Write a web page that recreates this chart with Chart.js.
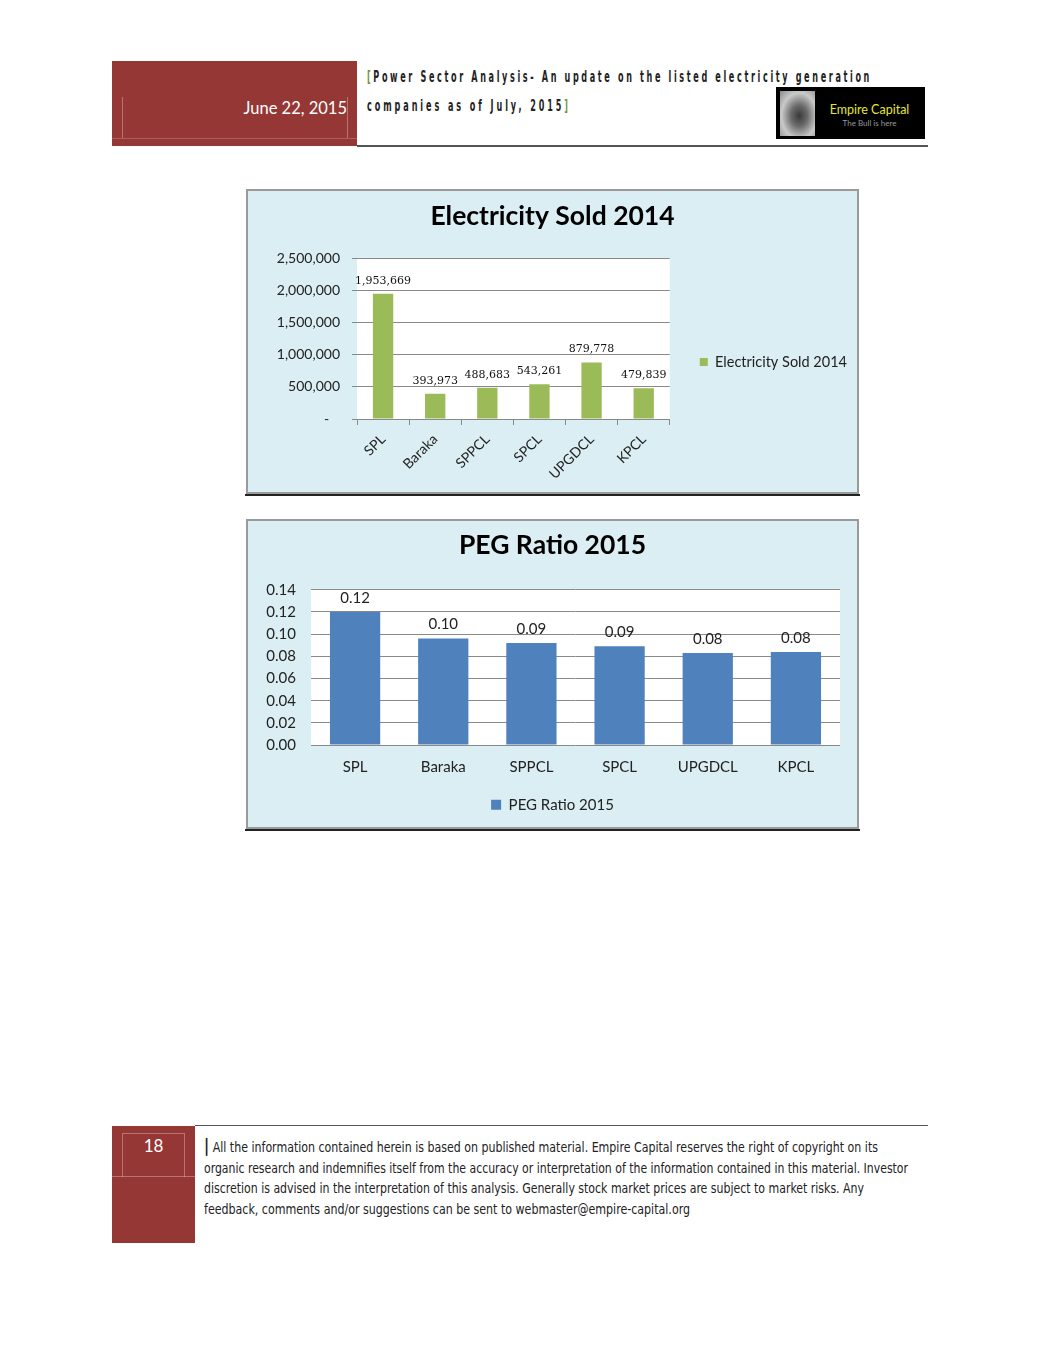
<!DOCTYPE html>
<html>
<head>
<meta charset="utf-8">
<script src="https://cdn.jsdelivr.net/npm/chart.js@4.4.1/dist/chart.umd.min.js"></script>
<style>
  body { margin: 0; background: #fff; }
  #page { position: relative; width: 1041px; height: 1347px; overflow: hidden; font-family: Lato, sans-serif; }
  .abs { position: absolute; }
  .red { background: #953735; }
  .narrow { font-family: "Liberation Sans Narrow", "Arial Narrow", "DejaVu Sans Condensed", sans-serif; white-space: nowrap; transform-origin: 0 50%; }
  .agency { font-family: "DejaVu Sans Condensed", "Liberation Sans Narrow", sans-serif; font-weight: bold; white-space: nowrap; transform-origin: 0 50%; }
  .box { position: absolute; box-sizing: border-box; border: 2px solid #9a9a9a; background: #dbeef4; }
  .box canvas { position: absolute; left: 0; top: 0; }
  .shadow { position: absolute; height: 2px; background: #222; }
</style>
</head>
<body>
<div id="page">

  <!-- header -->
  <div class="abs red" style="left:112px;top:61px;width:245px;height:85px;">
    <div class="abs" style="left:10px;top:36px;width:224px;height:41px;border-left:1px solid rgba(255,255,255,0.3);border-right:1px solid rgba(255,255,255,0.3);"></div>
    <div class="abs" style="left:0;top:77px;width:245px;height:1px;background:rgba(255,255,255,0.2);"></div>
    <div class="abs" style="right:10px;top:37px;line-height:20px;font-size:16.5px;color:#fff;">June 22, 2015</div>
  </div>
  <div class="abs" style="left:357px;top:145px;width:571px;height:2px;background:#555;"></div>
  <div class="abs agency" data-w="505" style="left:367px;top:67px;line-height:20px;font-size:15.5px;color:#222;"><span style="color:#77933c">[</span>Power Sector Analysis- An update on the listed electricity generation</div>
  <div class="abs agency" data-w="204" style="left:367px;top:96px;line-height:20px;font-size:15.5px;color:#222;">companies as of July, 2015<span style="color:#77933c">]</span></div>

  <div class="abs" style="left:776px;top:87px;width:149px;height:52px;background:#000;">
    <div class="abs" style="left:4px;top:4px;width:35px;height:45px;background:radial-gradient(ellipse at 55% 55%, #3a3a3a 0%, #6a6a6a 30%, #c9c9c9 65%, #8a8a8a 100%);"></div>
    <div class="abs" style="left:42px;width:103px;top:15px;text-align:center;font-size:12.5px;color:#e5e536;line-height:16px;">Empire Capital</div>
    <div class="abs" style="left:42px;width:103px;top:31px;text-align:center;font-size:8px;color:#9a9a9a;line-height:10px;">The Bull is here</div>
  </div>

  <!-- chart 1 -->
  <div class="box" style="left:246px;top:189px;width:613px;height:305px;">
    <canvas id="soldChart" width="609" height="301"></canvas>
  </div>
  <div class="shadow" style="left:245px;top:494px;width:615px;"></div>

  <!-- chart 2 -->
  <div class="box" style="left:246px;top:519px;width:613px;height:310px;">
    <canvas id="pegChart" width="609" height="306"></canvas>
  </div>
  <div class="shadow" style="left:245px;top:829px;width:615px;"></div>

  <!-- footer -->
  <div class="abs" style="left:195px;top:1125px;width:733px;height:1px;background:#555;"></div>
  <div class="abs red" style="left:112px;top:1126px;width:83px;height:117px;">
    <div class="abs" style="left:10px;top:7px;width:61px;height:43px;border-left:1px solid rgba(255,255,255,0.3);border-right:1px solid rgba(255,255,255,0.3);border-top:1px solid rgba(255,255,255,0.3);"></div>
    <div class="abs" style="left:0;top:50px;width:83px;height:1px;background:rgba(255,255,255,0.3);"></div>
    <div class="abs" style="left:10px;width:63px;top:10px;text-align:center;font-size:17px;color:#fff;line-height:20px;">18</div>
  </div>
  <div class="abs narrow" data-w="674" style="left:204px;top:1137px;line-height:18px;font-size:14px;color:#222;"><span style="font-size:18px;font-weight:bold;">|</span> All the information contained herein is based on published material. Empire Capital reserves the right of copyright on its</div>
  <div class="abs narrow" data-w="704" style="left:204px;top:1159px;line-height:18px;font-size:14px;color:#222;">organic research and indemnifies itself from the accuracy or interpretation of the information contained in this material. Investor</div>
  <div class="abs narrow" data-w="660" style="left:204px;top:1179px;line-height:18px;font-size:14px;color:#222;">discretion is advised in the interpretation of this analysis. Generally stock market prices are subject to market risks. Any</div>
  <div class="abs narrow" data-w="486" style="left:204px;top:1200px;line-height:18px;font-size:14px;color:#222;">feedback, comments and/or suggestions can be sent to webmaster@empire-capital.org</div>
</div>

<script>
// data
const companies = ['SPL', 'Baraka', 'SPPCL', 'SPCL', 'UPGDCL', 'KPCL'];
const soldValues = [1953669, 393973, 488683, 543261, 879778, 479839];
const soldTicks = [0, 500000, 1000000, 1500000, 2000000, 2500000];
const pegValues = [0.120, 0.096, 0.092, 0.089, 0.083, 0.084];
const pegTicks = [0, 0.02, 0.04, 0.06, 0.08, 0.10, 0.12, 0.14];

// squeeze the narrow text lines to the widths of the page
document.querySelectorAll('.narrow').forEach(el => {
  const w = el.getBoundingClientRect().width;
  el.style.transform = 'scaleX(' + (el.dataset.w / w) + ')';
});
// header: thin tall letters, wide spacing
document.querySelectorAll('.agency').forEach(el => {
  const sx = 0.58;
  const w = el.getBoundingClientRect().width;
  const n = el.textContent.length;
  el.style.letterSpacing = ((el.dataset.w / sx - w) / n) + 'px';
  el.style.transform = 'scaleX(' + sx + ')';
});

Chart.defaults.font.family = 'Lato';
Chart.defaults.color = '#222';

const whitePlot = {
  id: 'whitePlot',
  beforeDraw(chart) {
    const a = chart.chartArea;
    chart.ctx.save();
    chart.ctx.fillStyle = '#fff';
    chart.ctx.fillRect(a.left, a.top, a.right - a.left, a.bottom - a.top);
    chart.ctx.restore();
  }
};

function barLabels(format, font, color, offset) {
  return {
    id: 'barLabels',
    afterDatasetsDraw(chart) {
      const ctx = chart.ctx;
      const meta = chart.getDatasetMeta(0);
      ctx.save();
      ctx.font = font;
      ctx.fillStyle = color;
      ctx.textAlign = 'center';
      ctx.textBaseline = 'middle';
      meta.data.forEach((bar, i) => {
        ctx.fillText(format(chart.data.datasets[0].data[i]), bar.x, bar.y - offset);
      });
      ctx.restore();
    }
  };
}

new Chart(document.getElementById('soldChart'), {
  type: 'bar',
  data: {
    labels: companies,
    datasets: [{
      label: 'Electricity Sold 2014',
      data: soldValues,
      backgroundColor: '#9bbb59',
      barPercentage: 0.39,
      categoryPercentage: 1
    }]
  },
  options: {
    responsive: false,
    animation: false,
    layout: { padding: 0 },
    plugins: {
      title: {
        display: true,
        text: 'Electricity Sold 2014',
        color: '#000',
        font: { size: 26.5, weight: 'bold' },
        padding: { top: 10, bottom: 26 }
      },
      legend: {
        position: 'right',
        maxWidth: 189,
        title: { display: true, text: ' ', font: { size: 1 }, padding: { top: 40, bottom: 0 } },
        labels: { boxWidth: 8, boxHeight: 8, padding: 30, font: { size: 14.5 }, color: '#222' }
      },
      tooltip: { enabled: false }
    },
    scales: {
      x: {
        afterFit: s => { s.height = 73; },
        grid: { offset: true, drawOnChartArea: false, drawTicks: true, tickLength: 6, color: '#8a8a8a' },
        border: { color: '#8a8a8a' },
        ticks: { minRotation: 45, maxRotation: 45, padding: 6, font: { size: 14 }, color: '#222' }
      },
      y: {
        min: 0,
        max: 2500000,
        afterFit: s => { s.width = 109; },
        afterBuildTicks: s => { s.ticks = soldTicks.map(v => ({ value: v })); },
        grid: { color: '#8a8a8a', tickLength: 5 },
        border: { display: false },
        ticks: {
          padding: 12,
          font: { size: 14 },
          color: '#222',
          callback: v => v === 0 ? '-   ' : v.toLocaleString('en-US')
        }
      }
    }
  },
  plugins: [whitePlot, barLabels(v => v.toLocaleString('en-US'), '11px "DejaVu Serif"', '#111', 13)]
});

new Chart(document.getElementById('pegChart'), {
  type: 'bar',
  data: {
    labels: companies,
    datasets: [{
      label: 'PEG Ratio 2015',
      data: pegValues,
      backgroundColor: '#4f81bd',
      barPercentage: 0.57,
      categoryPercentage: 1
    }]
  },
  options: {
    responsive: false,
    animation: false,
    layout: { padding: { left: 17, right: 17, bottom: 4.75 } },
    plugins: {
      title: {
        display: true,
        text: 'PEG Ratio 2015',
        color: '#000',
        font: { size: 26.5, weight: 'bold' },
        padding: { top: 9, bottom: 28 }
      },
      legend: {
        position: 'bottom',
        labels: { boxWidth: 10, boxHeight: 10, padding: 10, font: { size: 15 }, color: '#222' }
      },
      tooltip: { enabled: false }
    },
    scales: {
      x: {
        afterFit: s => { s.height = 42.25; },
        grid: { display: false, drawTicks: false },
        border: { display: false },
        ticks: { padding: 13, font: { size: 15 }, color: '#222' }
      },
      y: {
        min: 0,
        max: 0.14,
        afterFit: s => { s.width = 46; },
        afterBuildTicks: s => { s.ticks = pegTicks.map(v => ({ value: v })); },
        grid: { color: '#8a8a8a', drawTicks: false },
        border: { display: false },
        ticks: { padding: 15, font: { size: 15 }, color: '#222', callback: v => v.toFixed(2) }
      }
    }
  },
  plugins: [whitePlot, barLabels(v => v.toFixed(2), '15px Lato', '#222', 14)]
});
</script>
</body>
</html>
